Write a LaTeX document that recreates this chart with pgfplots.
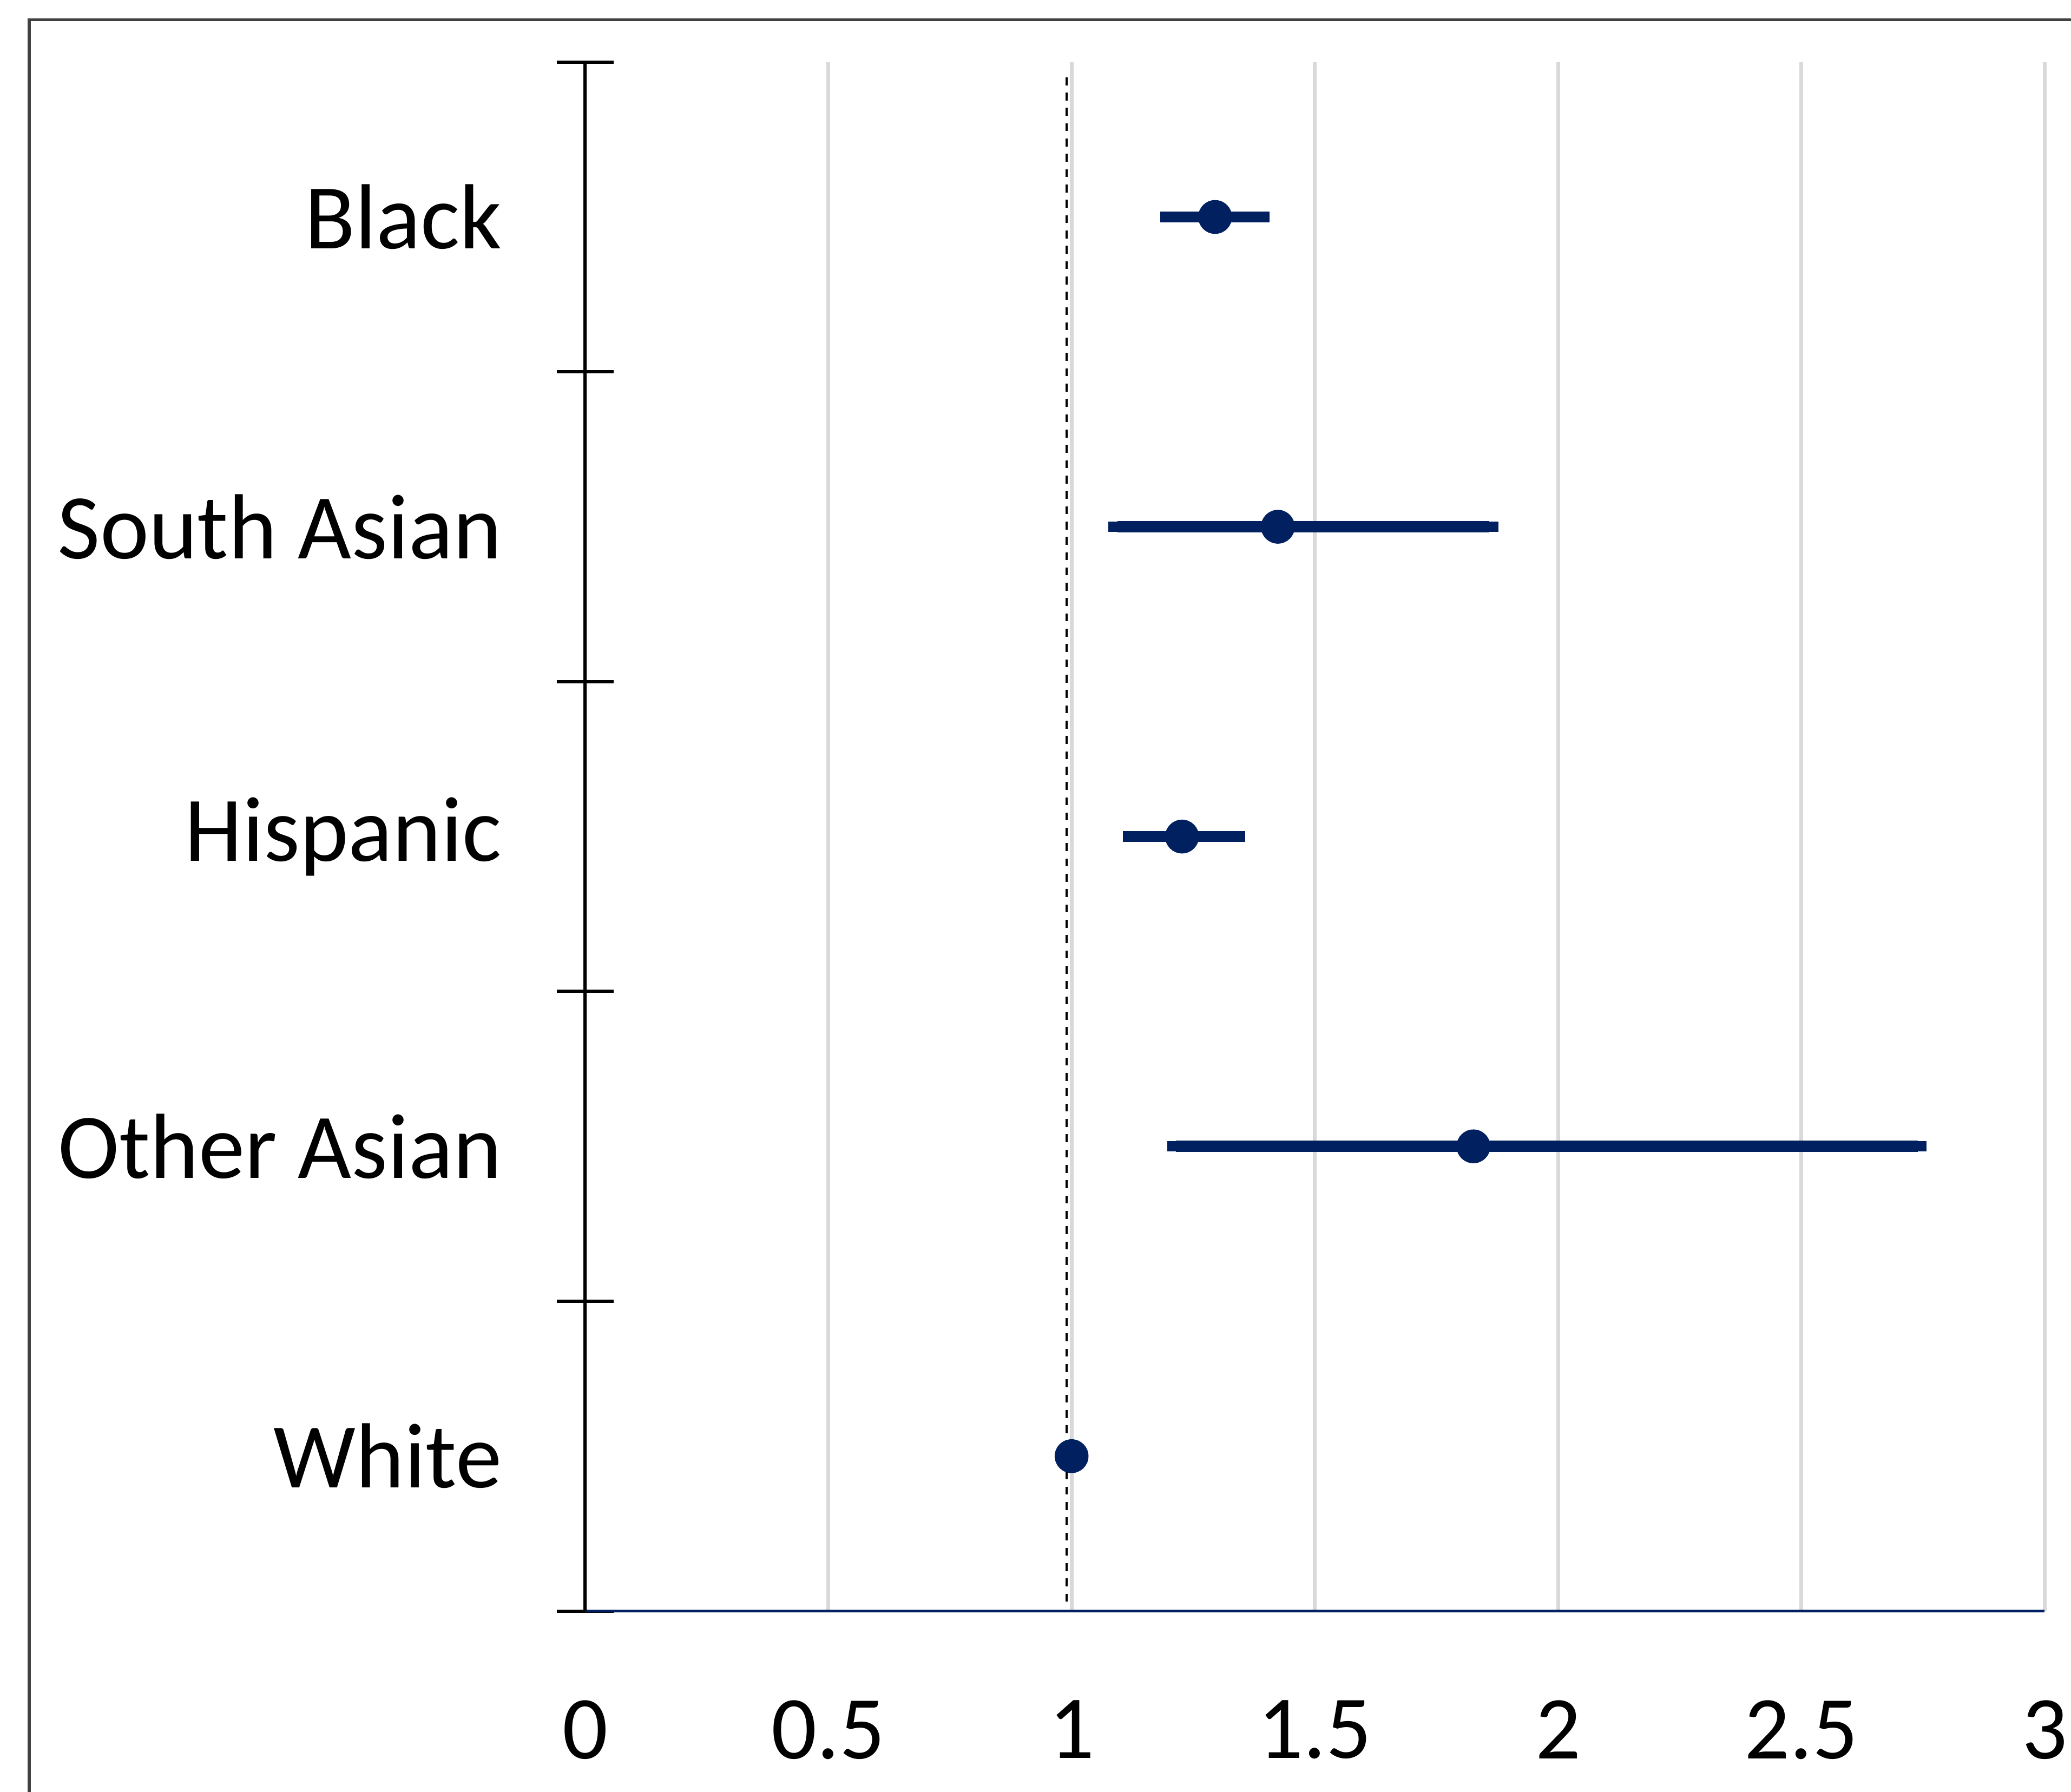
\documentclass[border=0pt]{standalone}
\usepackage{fontspec}
\setmainfont{Carlito}
\usepackage{pgfplots}
\pgfplotsset{compat=1.18}
\definecolor{navy}{HTML}{002060}
\definecolor{gridgray}{HTML}{D9D9D9}
\pgfplotstableread{
y    x      em     ep
4.5  1.295  0.094  0.094
3.5  1.424  0.330  0.435
2.5  1.227  0.103  0.111
1.5  1.826  0.611  0.913
}\ratiodata
\begin{document}
\begin{tikzpicture}[x=1pt,y=1pt]
\draw[black!75, line width=0.6pt] (5.5,-20) -- (5.5,335.5) -- (420,335.5);
\begin{axis}[
 at={(110.75pt,34.25pt)}, anchor=south west,
 scale only axis, width=276.25pt, height=293.25pt,
 xmin=0, xmax=3, ymin=0, ymax=5,
 axis x line*=bottom, axis y line*=left,
 x axis line style={draw=navy, line width=0.55pt, -},
 y axis line style={draw=black, line width=0.6pt, -},
 xtick={0,0.5,1,1.5,2,2.5,3},
 xmajorgrids=true,
 major x grid style={gridgray, line width=0.7pt},
 x tick style={draw=none},
 /pgf/number format/assume math mode=true,
 xticklabel style={font=\fontsize{17}{20}\selectfont, yshift=-8pt},
 ytick={0,1,2,3,4,5}, yticklabels={},
 y tick style={black, line width=0.6pt},
 tick align=center, major tick length=10.75pt,
 extra y ticks={0.5,1.5,2.5,3.5,4.5},
 extra y tick labels={White,Other Asian,Hispanic,South Asian,Black},
 extra y tick style={major tick length=0pt, yticklabel style={font=\fontsize{17.5}{20}\selectfont, anchor=east, xshift=-12.25pt}},
]
\addplot[black, line width=0.35pt, dash pattern=on 1.5pt off 1.4pt] coordinates {(0.99,0.03) (0.99,4.96)};
\addplot[only marks, mark=*, mark size=3pt, color=navy,
  error bars/.cd, x dir=both, x explicit,
  error bar style={line width=2.1pt, navy},
  error mark=|,
  error mark options={line width=2pt, mark size=1.7pt, navy, rotate=90}]
  table[x=x, y=y, x error plus=ep, x error minus=em] {\ratiodata};
\addplot[only marks, mark=*, mark size=3pt, color=navy] coordinates {(1.0,0.5)};
\end{axis}
\pgfresetboundingbox
\useasboundingbox (0,0) rectangle (392,339.25);
\end{tikzpicture}
\end{document}
